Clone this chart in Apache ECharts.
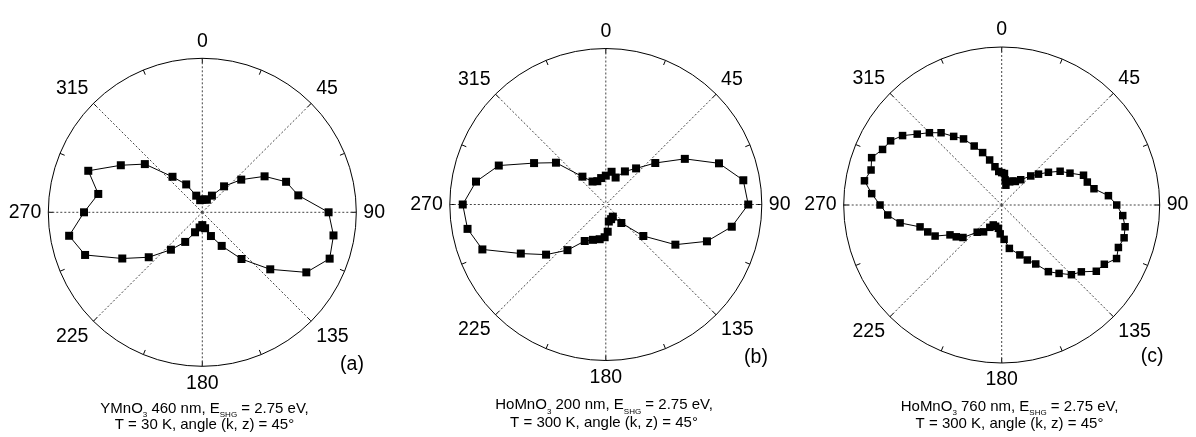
<!DOCTYPE html>
<html><head><meta charset="utf-8">
<script src="https://cdn.jsdelivr.net/npm/echarts@6/dist/echarts.min.js"></script>
<style>html,body{margin:0;padding:0;background:#fff}#c{width:1196px;height:437px}</style>
</head><body><div id="c"></div>
<script>
// Tick labels of the angle axis (degrees)
const angleTicks = [0, 45, 90, 135, 180, 225, 270, 315];

// Panel (a): YMnO3 460 nm
const anglesA = [0,10,20,30,40,50,60,70,80,90,100,110,120,130,140,150,160,170,180,190,200,210,220,230,240,250,260,270,280,290,300,310,320,330,340,350];
const valuesA = [0.082,0.085,0.087,0.125,0.22,0.33,0.467,0.579,0.633,0.82,0.865,0.88,0.78,0.576,0.396,0.252,0.164,0.105,0.083,0.1,0.138,0.222,0.317,0.454,0.6,0.81,0.878,0.768,0.686,0.788,0.611,0.487,0.301,0.209,0.115,0.08];

// Panel (b): HoMnO3 200 nm
const anglesB = [0,10,20,30,40,50,60,70,80,90,100,110,120,130,140,150,160,170,176,182,190,200,210,220,230,240,250,260,270,280,290,300,310,320,330,340,350];
const valuesB = [0.185,0.213,0.184,0.245,0.302,0.414,0.585,0.772,0.895,0.913,0.82,0.69,0.515,0.314,0.155,0.09,0.1,0.111,0.175,0.21,0.226,0.241,0.27,0.382,0.5,0.629,0.842,0.9,0.917,0.845,0.73,0.531,0.417,0.233,0.17,0.159,0.172];

// Panel (c): HoMnO3 760 nm
const anglesC = [0,5,8,12,19,25,30,37,45,50,55,60,65,70,75,80,85,90,95,100,105,110,115,120,125,130,135,140,145,150,155,160,170,176,183,188,196,203,208,214,222,230,235,240,245,250,255,260,265,270,275,280,285,290,295,300,305,310,315,320,325,330,335,340,345,350,355];
const valuesC = [0.205,0.2,0.16,0.128,0.155,0.168,0.172,0.2,0.26,0.304,0.361,0.427,0.477,0.551,0.561,0.593,0.678,0.728,0.769,0.793,0.802,0.786,0.802,0.75,0.731,0.658,0.624,0.565,0.515,0.431,0.384,0.336,0.279,0.218,0.183,0.149,0.14,0.137,0.16,0.205,0.232,0.32,0.351,0.378,0.465,0.498,0.535,0.653,0.724,0.77,0.826,0.882,0.856,0.876,0.832,0.812,0.766,0.698,0.647,0.597,0.53,0.483,0.412,0.353,0.295,0.246,0.213];

const panelLabels = ['(a)', '(b)', '(c)'];
const captionLine1 = [
  ['YMnO', '3', ' 460 nm, E', 'SHG', ' = 2.75 eV,'],
  ['HoMnO', '3', ' 200 nm, E', 'SHG', ' = 2.75 eV,'],
  ['HoMnO', '3', ' 760 nm, E', 'SHG', ' = 2.75 eV,']
];
const captionLine2 = ['T = 30 K, angle (k, z) = 45°', 'T = 300 K, angle (k, z) = 45°', 'T = 300 K, angle (k, z) = 45°'];

const FONT = '"Liberation Sans", Arial, Helvetica, sans-serif';
const layout = [
  {center: [202.3, 212.3], radius: 154, letter: [352, 365], cap: [204.5, 408.5, 425], sym: 8},
  {center: [605.8, 204.5], radius: 156, letter: [756, 358], cap: [604, 405, 422.5], sym: 8},
  {center: [1001.7, 205], radius: 158, letter: [1152, 357], cap: [1009.5, 406.7, 424], sym: 7.5}
];
const sets = [[anglesA, valuesA], [anglesB, valuesB], [anglesC, valuesC]];

const polar = [], angleAxis = [], radiusAxis = [], series = [], graphic = [];
layout.forEach((L, i) => {
  polar.push({center: L.center, radius: L.radius});
  angleAxis.push({
    polarIndex: i, type: 'value', min: 0, max: 360, interval: 45,
    startAngle: 90, clockwise: true,
    axisLine: {show: true, lineStyle: {color: '#000', width: 1}},
    axisTick: {show: true, inside: true, length: 5, lineStyle: {color: '#000', width: 1}},
    minorTick: {show: true, splitNumber: 2, length: 5, lineStyle: {color: '#000', width: 1}},
    axisLabel: {
      margin: 7, fontSize: 19.5, color: '#000', fontFamily: FONT,
      formatter: v => angleTicks.indexOf(v) >= 0 ? String(v) : ''
    },
    splitLine: {show: true, lineStyle: {color: '#444', width: 1, type: [2, 2]}}
  });
  radiusAxis.push({polarIndex: i, type: 'value', min: 0, max: 1, show: false,
    axisLine: {show: false}, axisTick: {show: false}, axisLabel: {show: false}, splitLine: {show: false}});
  const [ang, val] = sets[i];
  series.push({
    type: 'line', coordinateSystem: 'polar', polarIndex: i,
    data: ang.map((a, j) => [val[j], a]),
    symbol: 'rect', symbolSize: L.sym,
    itemStyle: {color: '#000'},
    lineStyle: {color: '#000', width: 1},
    silent: true, z: 5
  });
  graphic.push({
    type: 'text', x: L.letter[0], y: L.letter[1],
    style: {text: panelLabels[i], font: '19.5px ' + FONT, fill: '#000', align: 'center', verticalAlign: 'middle'}
  });
  const p = captionLine1[i];
  graphic.push({
    type: 'text', x: L.cap[0], y: L.cap[1] - 7.5,
    style: {
      text: '{m|' + p[0] + '}{s|' + p[1] + '}{m|' + p[2] + '}{s|' + p[3] + '}{m|' + p[4] + '}',
      align: 'center', verticalAlign: 'top',
      rich: {
        m: {fontSize: 15, fontFamily: FONT, fill: '#000', lineHeight: 15, verticalAlign: 'top'},
        s: {fontSize: 8, fontFamily: FONT, fill: '#000', lineHeight: 8, verticalAlign: 'top', padding: [10, 0, 0, 0]}
      }
    }
  });
  graphic.push({
    type: 'text', x: L.cap[0], y: L.cap[2],
    style: {text: captionLine2[i], font: '15px ' + FONT, fill: '#000', align: 'center', verticalAlign: 'middle'}
  });
});

const chart = echarts.init(document.getElementById('c'), null, {renderer: 'canvas'});
chart.setOption({
  animation: false,
  backgroundColor: '#fff',
  polar, angleAxis, radiusAxis, series, graphic
});
</script>
</body></html>
